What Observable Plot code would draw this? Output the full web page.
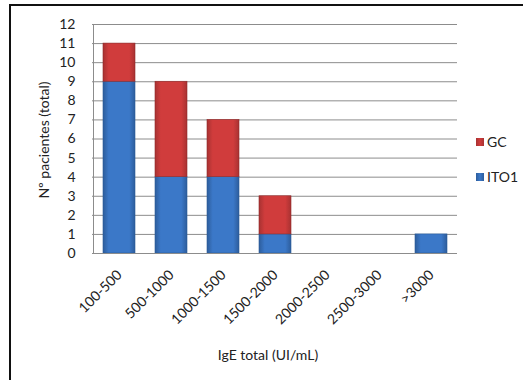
<!DOCTYPE html>
<html>
<head>
<meta charset="utf-8">
<script src="https://cdn.jsdelivr.net/npm/d3@7"></script>
<script src="https://cdn.jsdelivr.net/npm/@observablehq/plot@0.6"></script>
<style>
  html, body { margin: 0; padding: 0; background: #fff; }
  #wrap { position: relative; width: 523px; height: 380px; overflow: hidden; font-family: Lato, "Open Sans", sans-serif; }
  #frame { position: absolute; left: 9px; top: 4px; width: 600px; height: 500px; border: 2px solid #111; box-sizing: border-box; pointer-events: none; }
  #legend { position: absolute; left: 476px; top: 133px; font-size: 14px; color: #222; }
  .item { display: flex; align-items: center; height: 17px; margin-bottom: 18px; }
  .sw { width: 8px; height: 8px; margin-right: 3px; }
</style>
</head>
<body>
<div id="wrap"><div id="frame"></div><div id="legend"></div></div>
<script>
const categories = ["100-500", "500-1000", "1000-1500", "1500-2000", "2000-2500", "2500-3000", ">3000"];
const ito1 = [9, 4, 4, 1, 0, 0, 1];
const gc = [2, 5, 3, 2, 0, 0, 0];
const series = ["ITO1", "GC"];
const yTicks = [0,1,2,3,4,5,6,7,8,9,10,11,12];

const data = [];
categories.forEach((c, i) => {
  data.push({cat: c, series: "ITO1", value: ito1[i]});
  data.push({cat: c, series: "GC", value: gc[i]});
});

const plot = Plot.plot({
  width: 523,
  height: 380,
  marginLeft: 92,
  marginRight: 66,
  marginTop: 24,
  marginBottom: 127,
  style: {fontFamily: "Lato, 'Open Sans', sans-serif", fontSize: "14px", color: "#222", background: "transparent"},
  x: {domain: categories, label: null, paddingInner: 0.385, paddingOuter: 0.19, tickRotate: -45, tickSize: 0, tickPadding: 19},
  y: {domain: [0, 12], ticks: yTicks, label: null, tickSize: 0, tickPadding: 17, tickFormat: d => d},
  color: {domain: series, range: ["url(#gBlue)", "url(#gRed)"]},
  marks: [
    Plot.gridY(yTicks, {stroke: "#8c8c8c", strokeOpacity: 1, strokeWidth: 1}),
    Plot.ruleX([categories[0]], {stroke: "#8c8c8c", dx: -26}),
    Plot.barY(data, {x: "cat", y: "value", fill: "series", order: series, stroke: d => d.series === "GC" ? "#8f2a2a" : "#2b5a96", strokeWidth: 0.6}),
    Plot.ruleY([0], {stroke: "#8c8c8c"})
  ]
});

// gradients
const svg = d3.select(plot);
const defs = svg.insert("defs", ":first-child");
function grad(id, edge, mid) {
  const g = defs.append("linearGradient").attr("id", id).attr("x1", "0").attr("x2", "1").attr("y1", "0").attr("y2", "0");
  g.append("stop").attr("offset", "0").attr("stop-color", edge);
  g.append("stop").attr("offset", "0.18").attr("stop-color", mid);
  g.append("stop").attr("offset", "0.82").attr("stop-color", mid);
  g.append("stop").attr("offset", "1").attr("stop-color", edge);
}
grad("gBlue", "#2d5d9c", "#3b78c8");
grad("gRed", "#a83232", "#d03c3c");

// axis titles
svg.append("text").attr("x", 268).attr("y", 360).attr("text-anchor", "middle")
  .style("font-size", "14px").attr("fill", "#222").text("IgE total (UI/mL)");
svg.append("text").attr("transform", "translate(49,140) rotate(-90)").attr("text-anchor", "middle")
  .style("font-size", "14px").attr("fill", "#222").text("Nº pacientes (total)");

document.getElementById("wrap").insertBefore(plot, document.getElementById("frame"));
plot.style.position = "absolute"; plot.style.left = "0"; plot.style.top = "0";

// legend
const legendItems = [["GC", "linear-gradient(90deg,#a83232,#d03c3c,#a83232)"], ["ITO1", "linear-gradient(90deg,#2d5d9c,#3b78c8,#2d5d9c)"]];
const leg = document.getElementById("legend");
legendItems.forEach(([name, bg]) => {
  const it = document.createElement("div"); it.className = "item";
  const sw = document.createElement("div"); sw.className = "sw"; sw.style.background = bg;
  const t = document.createElement("span"); t.textContent = name;
  it.appendChild(sw); it.appendChild(t); leg.appendChild(it);
});
</script>
</body>
</html>
